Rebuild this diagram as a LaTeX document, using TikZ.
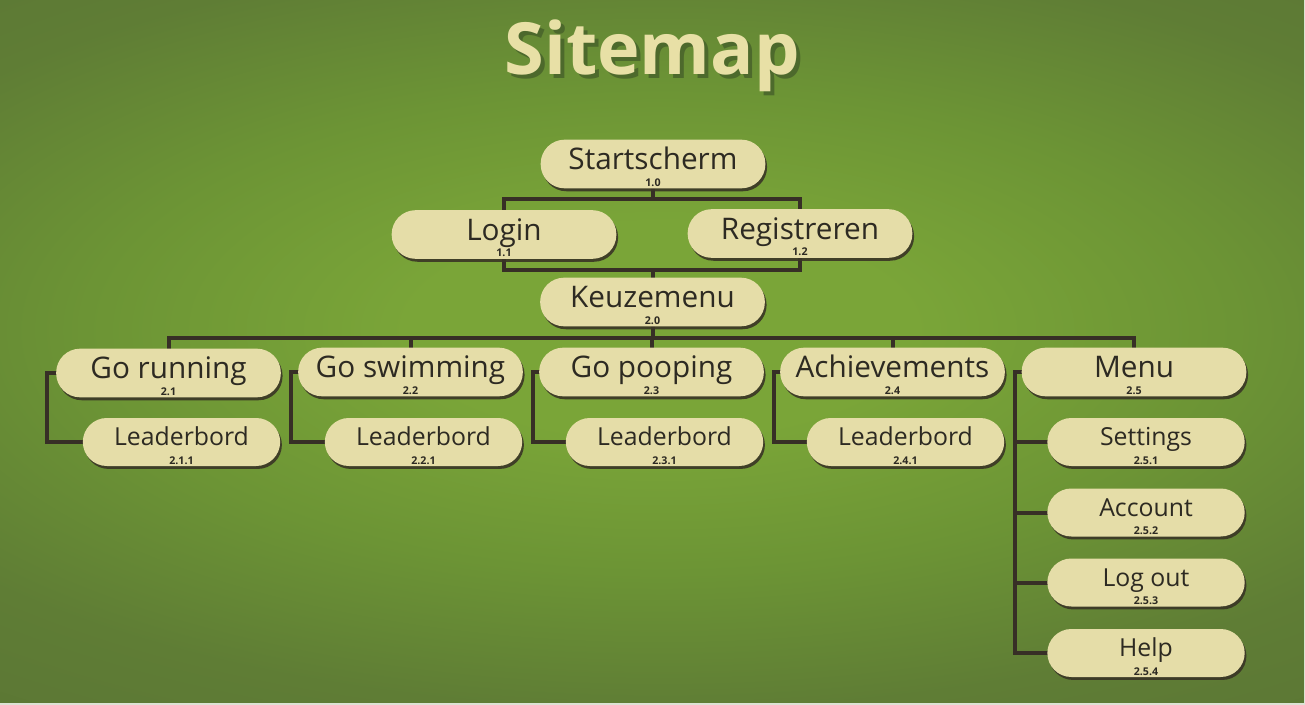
\documentclass[tikz,border=0pt]{standalone}
\usepackage{fontspec}
\setmainfont{Open Sans}
\usetikzlibrary{calc,shadows}

\definecolor{bgin}{HTML}{7AA538}
\definecolor{bgmid}{HTML}{6C9435}
\definecolor{bgdim}{HTML}{5F7D35}
\definecolor{bgout}{HTML}{5A7434}
\definecolor{cream}{HTML}{E5DDA8}
\definecolor{titlecream}{HTML}{E8E0A6}
\definecolor{titleshade}{HTML}{46602A}
\definecolor{ink}{HTML}{2D2A22}
\definecolor{wire}{HTML}{372F26}
\definecolor{shade}{HTML}{3A3526}
\definecolor{edge}{HTML}{DCE3D4}

\pgfdeclarelayer{back}
\pgfdeclarelayer{lines}
\pgfsetlayers{back,lines,main}

\pgfdeclareradialshading{field}{\pgfpoint{0bp}{0bp}}{%
  color(0bp)=(bgin); color(7bp)=(bgin); color(16bp)=(bgmid);
  color(25bp)=(bgdim); color(35bp)=(bgout); color(72bp)=(bgout)}

\tikzset{
  pill/.style={rectangle, rounded corners=18pt, fill=cream, inner sep=0pt,
    minimum height=36.5pt,
    drop shadow={shadow xshift=1.3pt, shadow yshift=-2.2pt, fill=shade, opacity=.9}},
  bigpill/.style={pill, minimum width=168.5pt},
  smallpill/.style={pill, minimum width=148pt, minimum height=36pt},
  bigtext/.style={font=\fontsize{22.3pt}{24pt}\selectfont, text=ink, inner sep=0pt,
    text height=16pt, text depth=0pt},
  smalltext/.style={font=\fontsize{18.6pt}{20pt}\selectfont, text=ink, inner sep=0pt,
    text height=13.4pt, text depth=0pt},
  numtext/.style={font=\bfseries\fontsize{8pt}{9pt}\selectfont, text=ink, inner sep=0pt,
    text height=5.8pt, text depth=0pt},
  titletext/.style={font=\bfseries\fontsize{54pt}{60pt}\selectfont, inner sep=0pt,
    text height=38.9pt, text depth=0pt},
  conn/.style={draw=wire, line width=3pt},
}

% #1 name, #2 position, #3 box style, #4 text style, #5 label, #6 number
\newcommand{\pillnode}[6]{%
  \node[#3] (#1) at (#2) {};
  \node[#4] (#1-t) at ($(#1.center)+(0,-5)$) {#5};
  \node[numtext] (#1-n) at ($(#1.center)+(0,18.5)$) {#6};
}

\begin{document}
\begin{tikzpicture}[x=0.75pt,y=-0.75pt]
\useasboundingbox (0,0) rectangle (1305,705);

% backdrop
\begin{pgfonlayer}{back}
  \begin{scope}
    \clip (0,0) rectangle (1305,705);
    \shade[shading=field] (-240,-50) rectangle (1560,710);
  \end{scope}
  \fill[edge] (0,703.3) rectangle (1305,705);
  \fill[edge] (1303.7,0) rectangle (1305,705);
\end{pgfonlayer}

% heading with its offset shadow
\begin{pgfonlayer}{lines}
  \node[titletext, text=titleshade, opacity=.8] (title-s) at (656,52.5) {Sitemap};
\end{pgfonlayer}
\node[titletext, text=titlecream] (title) at (652,48.5) {Sitemap};

% first level
\pillnode{st}{653,164}{bigpill}{bigtext}{Startscherm}{1.0}
\pillnode{lg}{504,234.5}{bigpill}{bigtext}{Login}{1.1}
\pillnode{rg}{800,233.5}{bigpill}{bigtext}{Registreren}{1.2}
\pillnode{km}{652.5,302}{bigpill}{bigtext}{Keuzemenu}{2.0}

% second level
\pillnode{gr}{168.5,373}{bigpill}{bigtext}{Go running}{2.1}
\pillnode{gs}{410.5,372}{bigpill}{bigtext}{Go swimming}{2.2}
\pillnode{gp}{651.5,372}{bigpill}{bigtext}{Go pooping}{2.3}
\pillnode{ac}{892.5,372}{bigpill}{bigtext}{Achievements}{2.4}
\pillnode{mn}{1134,372}{bigpill}{bigtext}{Menu}{2.5}

% leaderboards
\pillnode{gr1}{181.5,442}{smallpill}{smalltext}{Leaderbord}{2.1.1}
\pillnode{gs1}{423.5,442}{smallpill}{smalltext}{Leaderbord}{2.2.1}
\pillnode{gp1}{664.5,442}{smallpill}{smalltext}{Leaderbord}{2.3.1}
\pillnode{ac1}{905.5,442}{smallpill}{smalltext}{Leaderbord}{2.4.1}

% menu entries
\pillnode{se}{1146,442}{smallpill}{smalltext}{Settings}{2.5.1}
\pillnode{acc}{1146,512.5}{smallpill}{smalltext}{Account}{2.5.2}
\pillnode{lo}{1146,582.5}{smallpill}{smalltext}{Log out}{2.5.3}
\pillnode{hp}{1146,653}{smallpill}{smalltext}{Help}{2.5.4}

% junction points
\coordinate (j1) at (653,199);
\coordinate (j2) at (652.5,270);
\coordinate (j3) at (652.5,338);
\coordinate (e1) at (47,373);
\coordinate (e2) at (291,372);
\coordinate (e3) at (532.5,372);
\coordinate (e4) at (774,372);
\coordinate (e5) at (1015,372);

\begin{pgfonlayer}{lines}
  \draw[conn] (st.center) -- (j1);
  \draw[conn] (lg.center) |- (j1) -| (rg.center);
  \draw[conn] (lg.center) |- (j2) -| (rg.center);
  \draw[conn] (km.center) -- (j2);
  \draw[conn] (km.center) -- (j3);
  \draw[conn] (gr.center) |- (j3) -| (mn.center);
  \draw[conn] (gs.center) -- (gs.center |- j3);
  \draw[conn] (gp.center) -- (gp.center |- j3);
  \draw[conn] (ac.center) -- (ac.center |- j3);
  \draw[conn] (gr.center) -- (e1) |- (gr1.center);
  \draw[conn] (gs.center) -- (e2) |- (gs1.center);
  \draw[conn] (gp.center) -- (e3) |- (gp1.center);
  \draw[conn] (ac.center) -- (e4) |- (ac1.center);
  \draw[conn] (mn.center) -- (e5) |- (hp.center);
  \draw[conn] (e5 |- se.center) -- (se.center);
  \draw[conn] (e5 |- acc.center) -- (acc.center);
  \draw[conn] (e5 |- lo.center) -- (lo.center);
\end{pgfonlayer}
\end{tikzpicture}
\end{document}
